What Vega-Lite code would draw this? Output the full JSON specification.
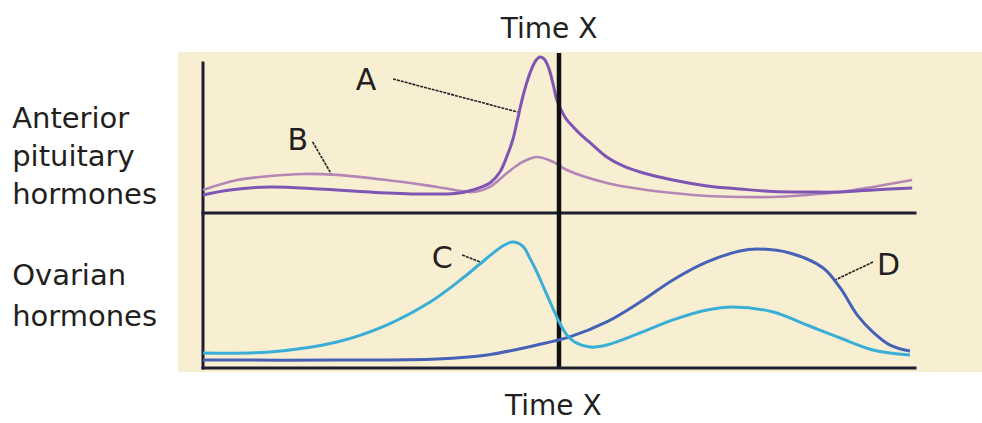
{
  "$schema": "https://vega.github.io/schema/vega-lite/v6.json",
  "width": 982,
  "height": 423,
  "padding": 0,
  "autosize": "none",
  "background": "white",
  "config": {"view": {"stroke": null}},
  "datasets": {
    "bg": [{"t1": -3.51, "t2": 109.41, "v1": -99.4, "v2": 100.6}],
    "curves": [
      {"s": "A", "t": 0, "v": 11.3}, {"s": "A", "t": 3.8, "v": 14.4}, {"s": "A", "t": 9.4, "v": 16.3}, {"s": "A", "t": 16.4, "v": 15.0},
      {"s": "A", "t": 23.5, "v": 13.1}, {"s": "A", "t": 30.5, "v": 11.9}, {"s": "A", "t": 35.4, "v": 12.2}, {"s": "A", "t": 37.9, "v": 14.4},
      {"s": "A", "t": 40.3, "v": 18.8}, {"s": "A", "t": 41.7, "v": 25.6}, {"s": "A", "t": 42.7, "v": 35.6},
      {"s": "A", "t": 43.5, "v": 45.6}, {"s": "A", "t": 44.1, "v": 56.9}, {"s": "A", "t": 44.8, "v": 70.6}, {"s": "A", "t": 45.5, "v": 81.9},
      {"s": "A", "t": 46.2, "v": 90.6}, {"s": "A", "t": 46.8, "v": 95.6}, {"s": "A", "t": 47.3, "v": 97.5}, {"s": "A", "t": 47.9, "v": 96.3},
      {"s": "A", "t": 48.5, "v": 91.3}, {"s": "A", "t": 49.2, "v": 80}, {"s": "A", "t": 49.7, "v": 70.6}, {"s": "A", "t": 50.3, "v": 64.4},
      {"s": "A", "t": 51.0, "v": 58.8}, {"s": "A", "t": 52.0, "v": 53.8}, {"s": "A", "t": 53.1, "v": 48.8}, {"s": "A", "t": 54.4, "v": 43.8},
      {"s": "A", "t": 56.7, "v": 35}, {"s": "A", "t": 59.0, "v": 29.4}, {"s": "A", "t": 61.4, "v": 25.6}, {"s": "A", "t": 66.0, "v": 20.6},
      {"s": "A", "t": 70.8, "v": 16.9}, {"s": "A", "t": 75.4, "v": 15}, {"s": "A", "t": 80.1, "v": 13.4}, {"s": "A", "t": 84.8, "v": 13.1},
      {"s": "A", "t": 89.5, "v": 13.1}, {"s": "A", "t": 94.1, "v": 14.4}, {"s": "A", "t": 99.6, "v": 15.6},
      {"s": "B", "t": 0, "v": 14.4}, {"s": "B", "t": 4.8, "v": 20.6}, {"s": "B", "t": 9.4, "v": 23.1}, {"s": "B", "t": 14.0, "v": 24.4},
      {"s": "B", "t": 18.8, "v": 23.8}, {"s": "B", "t": 25.8, "v": 20.6}, {"s": "B", "t": 32.9, "v": 16.3}, {"s": "B", "t": 37.9, "v": 13.1},
      {"s": "B", "t": 40.3, "v": 16.3}, {"s": "B", "t": 42.7, "v": 25}, {"s": "B", "t": 44.9, "v": 31.9},
      {"s": "B", "t": 46.9, "v": 35}, {"s": "B", "t": 49.2, "v": 31.9}, {"s": "B", "t": 51.1, "v": 26.9},
      {"s": "B", "t": 56.7, "v": 18.8}, {"s": "B", "t": 61.4, "v": 15}, {"s": "B", "t": 66.0, "v": 12.5}, {"s": "B", "t": 70.8, "v": 10.6},
      {"s": "B", "t": 75.4, "v": 10}, {"s": "B", "t": 80.1, "v": 10}, {"s": "B", "t": 84.8, "v": 11.3}, {"s": "B", "t": 89.5, "v": 13.1},
      {"s": "B", "t": 94.1, "v": 16.3}, {"s": "B", "t": 99.6, "v": 20.6},
      {"s": "C", "t": 0, "v": 9.8}, {"s": "C", "t": 9.4, "v": 10.5}, {"s": "C", "t": 18.8, "v": 17}, {"s": "C", "t": 25.8, "v": 28.1},
      {"s": "C", "t": 31.9, "v": 43.1}, {"s": "C", "t": 36.5, "v": 58.8}, {"s": "C", "t": 39.9, "v": 71.9}, {"s": "C", "t": 42.1, "v": 79.7},
      {"s": "C", "t": 43.5, "v": 82.4}, {"s": "C", "t": 44.9, "v": 79.7}, {"s": "C", "t": 45.9, "v": 71.9}, {"s": "C", "t": 46.9, "v": 62.7},
      {"s": "C", "t": 48.0, "v": 51}, {"s": "C", "t": 49.0, "v": 40.5}, {"s": "C", "t": 50.1, "v": 29.4}, {"s": "C", "t": 51.1, "v": 21.6},
      {"s": "C", "t": 52.2, "v": 17}, {"s": "C", "t": 54.4, "v": 13.7}, {"s": "C", "t": 56.7, "v": 15}, {"s": "C", "t": 61.4, "v": 22.9},
      {"s": "C", "t": 66.0, "v": 31.4}, {"s": "C", "t": 70.8, "v": 37.9}, {"s": "C", "t": 74.4, "v": 39.9}, {"s": "C", "t": 80.1, "v": 36.6},
      {"s": "C", "t": 84.8, "v": 28.1}, {"s": "C", "t": 89.5, "v": 19.6}, {"s": "C", "t": 94.1, "v": 11.8}, {"s": "C", "t": 99.3, "v": 8.5},
      {"s": "D", "t": 0, "v": 5.2}, {"s": "D", "t": 18.8, "v": 5.2}, {"s": "D", "t": 32.9, "v": 5.9}, {"s": "D", "t": 39.9, "v": 8.5},
      {"s": "D", "t": 46.9, "v": 15}, {"s": "D", "t": 51.5, "v": 20.3}, {"s": "D", "t": 56.7, "v": 30.1}, {"s": "D", "t": 61.4, "v": 43.1},
      {"s": "D", "t": 66.0, "v": 57.5}, {"s": "D", "t": 70.8, "v": 69.3}, {"s": "D", "t": 75.4, "v": 76.5}, {"s": "D", "t": 77.8, "v": 77.8},
      {"s": "D", "t": 82.4, "v": 75.2}, {"s": "D", "t": 87.1, "v": 65.4}, {"s": "D", "t": 89.5, "v": 52.3}, {"s": "D", "t": 91.9, "v": 34.6},
      {"s": "D", "t": 94.1, "v": 23.5}, {"s": "D", "t": 96.5, "v": 15}, {"s": "D", "t": 99.3, "v": 11.1}
    ],
    "segs": [
      {"g": "top", "k": "axis", "t1": 0, "t2": 0, "v1": -1, "v2": 93.75},
      {"g": "top", "k": "axis", "t1": 0, "t2": 100, "v1": 0, "v2": 0},
      {"g": "top", "k": "timex", "t1": 50, "t2": 50, "v1": 100, "v2": -97.5},
      {"g": "top", "k": "leader", "t1": 26.7, "t2": 44.2, "v1": 83.75, "v2": 63.1},
      {"g": "top", "k": "leader", "t1": 15.4, "t2": 18.1, "v1": 44.4, "v2": 23.75},
      {"g": "bot", "k": "axis", "t1": 0, "t2": 0, "v1": 0, "v2": 98.7},
      {"g": "bot", "k": "axis", "t1": 0, "t2": 100, "v1": 0, "v2": 0},
      {"g": "bot", "k": "leader", "t1": 36.4, "t2": 39.3, "v1": 73.9, "v2": 68.6},
      {"g": "bot", "k": "leader", "t1": 94.1, "t2": 88.5, "v1": 69.3, "v2": 56.9}
    ],
    "labels": [
      {"g": "top", "k": "title", "text": "Time X", "t": 48.6, "v": 109.1},
      {"g": "top", "k": "side", "text": "Anterior", "t": -26.8, "v": 53.1},
      {"g": "top", "k": "side", "text": "pituitary", "t": -26.8, "v": 29.4},
      {"g": "top", "k": "side", "text": "hormones", "t": -26.8, "v": 5.6},
      {"g": "top", "k": "letter", "text": "A", "t": 22.9, "v": 76.9},
      {"g": "top", "k": "letter", "text": "B", "t": 13.3, "v": 39.4},
      {"g": "bot", "k": "letter", "text": "C", "t": 33.6, "v": 65.4},
      {"g": "bot", "k": "letter", "text": "D", "t": 96.3, "v": 60.8},
      {"g": "bot", "k": "side", "text": "Ovarian", "t": -26.8, "v": 54.2},
      {"g": "bot", "k": "side", "text": "hormones", "t": -26.8, "v": 27.5},
      {"g": "bot", "k": "title", "text": "Time X", "t": 49.2, "v": -30.7}
    ]
  },
  "layer": [
    {
      "layer": [
        {
          "data": {"name": "bg"},
          "mark": {"type": "rect", "color": "#F8EFD3"},
          "encoding": {
            "x": {"field": "t1", "type": "quantitative", "scale": {"domain": [-28.51, 109.41], "nice": false, "zero": false}, "axis": null},
            "x2": {"field": "t2"},
            "y": {"field": "v1", "type": "quantitative", "scale": {"domain": [-131.25, 133.125], "nice": false, "zero": false}, "axis": null},
            "y2": {"field": "v2"}
          }
        },
        {
          "data": {"name": "segs"},
          "transform": [{"filter": "datum.g == 'top' && datum.k == 'axis'"}],
          "mark": {"type": "rule", "color": "#1E1E2E", "strokeWidth": 3, "strokeCap": "square"},
          "encoding": {
            "x": {"field": "t1", "type": "quantitative", "scale": {"domain": [-28.51, 109.41], "nice": false, "zero": false}, "axis": null},
            "x2": {"field": "t2"},
            "y": {"field": "v1", "type": "quantitative", "scale": {"domain": [-131.25, 133.125], "nice": false, "zero": false}, "axis": null},
            "y2": {"field": "v2"}
          }
        },
        {
          "data": {"name": "segs"},
          "transform": [{"filter": "datum.g == 'top' && datum.k == 'leader'"}],
          "mark": {"type": "rule", "color": "#222222", "strokeWidth": 1.6, "strokeDash": [3, 1]},
          "encoding": {
            "x": {"field": "t1", "type": "quantitative", "scale": {"domain": [-28.51, 109.41], "nice": false, "zero": false}, "axis": null},
            "x2": {"field": "t2"},
            "y": {"field": "v1", "type": "quantitative", "scale": {"domain": [-131.25, 133.125], "nice": false, "zero": false}, "axis": null},
            "y2": {"field": "v2"}
          }
        },
        {
          "data": {"name": "curves"},
          "transform": [{"filter": "datum.s == 'B'"}],
          "mark": {"type": "line", "interpolate": "catmull-rom", "strokeWidth": 2.6, "color": "#B486B6"},
          "encoding": {
            "x": {"field": "t", "type": "quantitative", "scale": {"domain": [-28.51, 109.41], "nice": false, "zero": false}, "axis": null},
            "y": {"field": "v", "type": "quantitative", "scale": {"domain": [-131.25, 133.125], "nice": false, "zero": false}, "axis": null}
          }
        },
        {
          "data": {"name": "curves"},
          "transform": [{"filter": "datum.s == 'A'"}],
          "mark": {"type": "line", "interpolate": "catmull-rom", "strokeWidth": 3, "color": "#7F55B4"},
          "encoding": {
            "x": {"field": "t", "type": "quantitative", "scale": {"domain": [-28.51, 109.41], "nice": false, "zero": false}, "axis": null},
            "y": {"field": "v", "type": "quantitative", "scale": {"domain": [-131.25, 133.125], "nice": false, "zero": false}, "axis": null}
          }
        },
        {
          "data": {"name": "segs"},
          "transform": [{"filter": "datum.g == 'top' && datum.k == 'timex'"}],
          "mark": {"type": "rule", "color": "#111111", "strokeWidth": 4.5},
          "encoding": {
            "x": {"field": "t1", "type": "quantitative", "scale": {"domain": [-28.51, 109.41], "nice": false, "zero": false}, "axis": null},
            "x2": {"field": "t2"},
            "y": {"field": "v1", "type": "quantitative", "scale": {"domain": [-131.25, 133.125], "nice": false, "zero": false}, "axis": null},
            "y2": {"field": "v2"}
          }
        },
        {
          "data": {"name": "labels"},
          "transform": [{"filter": "datum.g == 'top' && datum.k == 'side'"}],
          "mark": {"type": "text", "align": "left", "baseline": "alphabetic", "font": "DejaVu Sans", "fontSize": 29, "color": "#231F20"},
          "encoding": {
            "x": {"field": "t", "type": "quantitative", "scale": {"domain": [-28.51, 109.41], "nice": false, "zero": false}, "axis": null},
            "y": {"field": "v", "type": "quantitative", "scale": {"domain": [-131.25, 133.125], "nice": false, "zero": false}, "axis": null},
            "text": {"field": "text"}
          }
        },
        {
          "data": {"name": "labels"},
          "transform": [{"filter": "datum.g == 'top' && datum.k == 'letter'"}],
          "mark": {"type": "text", "align": "center", "baseline": "alphabetic", "font": "DejaVu Sans", "fontSize": 30, "color": "#231F20"},
          "encoding": {
            "x": {"field": "t", "type": "quantitative", "scale": {"domain": [-28.51, 109.41], "nice": false, "zero": false}, "axis": null},
            "y": {"field": "v", "type": "quantitative", "scale": {"domain": [-131.25, 133.125], "nice": false, "zero": false}, "axis": null},
            "text": {"field": "text"}
          }
        },
        {
          "data": {"name": "labels"},
          "transform": [{"filter": "datum.g == 'top' && datum.k == 'title'"}],
          "mark": {"type": "text", "align": "center", "baseline": "alphabetic", "font": "DejaVu Sans", "fontSize": 28, "color": "#231F20"},
          "encoding": {
            "x": {"field": "t", "type": "quantitative", "scale": {"domain": [-28.51, 109.41], "nice": false, "zero": false}, "axis": null},
            "y": {"field": "v", "type": "quantitative", "scale": {"domain": [-131.25, 133.125], "nice": false, "zero": false}, "axis": null},
            "text": {"field": "text"}
          }
        }
      ]
    },
    {
      "layer": [
        {
          "data": {"name": "segs"},
          "transform": [{"filter": "datum.g == 'bot' && datum.k == 'axis'"}],
          "mark": {"type": "rule", "color": "#1E1E2E", "strokeWidth": 3, "strokeCap": "square"},
          "encoding": {
            "x": {"field": "t1", "type": "quantitative", "scale": {"domain": [-28.51, 109.41], "nice": false, "zero": false}, "axis": null},
            "x2": {"field": "t2"},
            "y": {"field": "v1", "type": "quantitative", "scale": {"domain": [-35.95, 240.52], "nice": false, "zero": false}, "axis": null},
            "y2": {"field": "v2"}
          }
        },
        {
          "data": {"name": "segs"},
          "transform": [{"filter": "datum.g == 'bot' && datum.k == 'leader'"}],
          "mark": {"type": "rule", "color": "#222222", "strokeWidth": 1.6, "strokeDash": [3, 1]},
          "encoding": {
            "x": {"field": "t1", "type": "quantitative", "scale": {"domain": [-28.51, 109.41], "nice": false, "zero": false}, "axis": null},
            "x2": {"field": "t2"},
            "y": {"field": "v1", "type": "quantitative", "scale": {"domain": [-35.95, 240.52], "nice": false, "zero": false}, "axis": null},
            "y2": {"field": "v2"}
          }
        },
        {
          "data": {"name": "curves"},
          "transform": [{"filter": "datum.s == 'D'"}],
          "mark": {"type": "line", "interpolate": "catmull-rom", "strokeWidth": 3, "color": "#4761B6"},
          "encoding": {
            "x": {"field": "t", "type": "quantitative", "scale": {"domain": [-28.51, 109.41], "nice": false, "zero": false}, "axis": null},
            "y": {"field": "v", "type": "quantitative", "scale": {"domain": [-35.95, 240.52], "nice": false, "zero": false}, "axis": null}
          }
        },
        {
          "data": {"name": "curves"},
          "transform": [{"filter": "datum.s == 'C'"}],
          "mark": {"type": "line", "interpolate": "catmull-rom", "strokeWidth": 3, "color": "#3AAED6"},
          "encoding": {
            "x": {"field": "t", "type": "quantitative", "scale": {"domain": [-28.51, 109.41], "nice": false, "zero": false}, "axis": null},
            "y": {"field": "v", "type": "quantitative", "scale": {"domain": [-35.95, 240.52], "nice": false, "zero": false}, "axis": null}
          }
        },
        {
          "data": {"name": "labels"},
          "transform": [{"filter": "datum.g == 'bot' && datum.k == 'side'"}],
          "mark": {"type": "text", "align": "left", "baseline": "alphabetic", "font": "DejaVu Sans", "fontSize": 29, "color": "#231F20"},
          "encoding": {
            "x": {"field": "t", "type": "quantitative", "scale": {"domain": [-28.51, 109.41], "nice": false, "zero": false}, "axis": null},
            "y": {"field": "v", "type": "quantitative", "scale": {"domain": [-35.95, 240.52], "nice": false, "zero": false}, "axis": null},
            "text": {"field": "text"}
          }
        },
        {
          "data": {"name": "labels"},
          "transform": [{"filter": "datum.g == 'bot' && datum.k == 'letter'"}],
          "mark": {"type": "text", "align": "center", "baseline": "alphabetic", "font": "DejaVu Sans", "fontSize": 30, "color": "#231F20"},
          "encoding": {
            "x": {"field": "t", "type": "quantitative", "scale": {"domain": [-28.51, 109.41], "nice": false, "zero": false}, "axis": null},
            "y": {"field": "v", "type": "quantitative", "scale": {"domain": [-35.95, 240.52], "nice": false, "zero": false}, "axis": null},
            "text": {"field": "text"}
          }
        },
        {
          "data": {"name": "labels"},
          "transform": [{"filter": "datum.g == 'bot' && datum.k == 'title'"}],
          "mark": {"type": "text", "align": "center", "baseline": "alphabetic", "font": "DejaVu Sans", "fontSize": 28, "color": "#231F20"},
          "encoding": {
            "x": {"field": "t", "type": "quantitative", "scale": {"domain": [-28.51, 109.41], "nice": false, "zero": false}, "axis": null},
            "y": {"field": "v", "type": "quantitative", "scale": {"domain": [-35.95, 240.52], "nice": false, "zero": false}, "axis": null},
            "text": {"field": "text"}
          }
        }
      ]
    }
  ],
  "resolve": {"scale": {"y": "independent"}}
}
